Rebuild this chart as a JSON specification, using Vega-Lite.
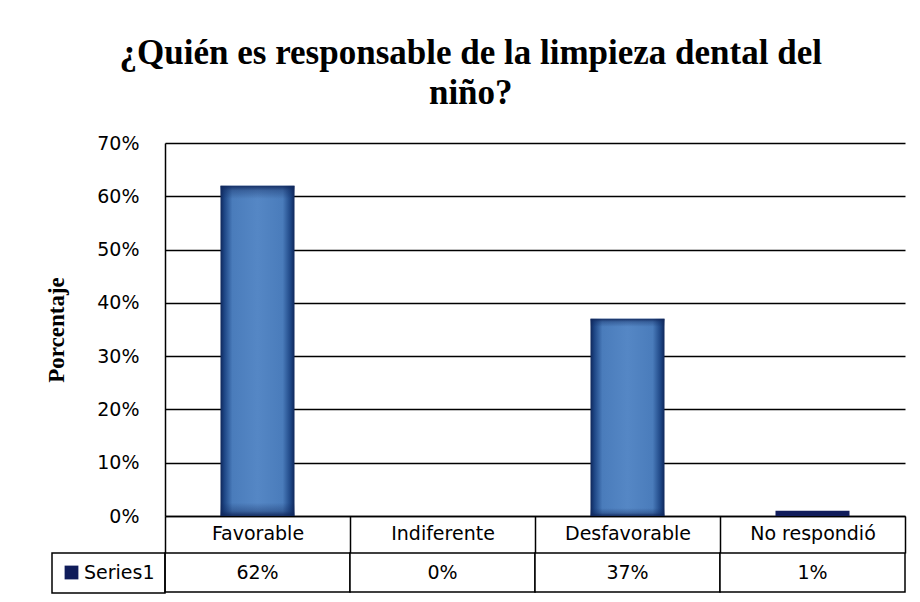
{
  "$schema": "https://vega.github.io/schema/vega-lite/v6.json",
  "padding": {"left": 45, "top": 36, "right": 17, "bottom": 5},
  "background": "white",
  "title": {
    "text": ["¿Quién es responsable de la limpieza dental del", "niño?"],
    "font": "Liberation Serif",
    "fontSize": 35,
    "fontWeight": "bold",
    "lineHeight": 40,
    "anchor": "middle",
    "frame": "bounds",
    "offset": 23,
    "dx": -5,
    "color": "#000000"
  },
  "datasets": {
    "resp": [
      {"categoria": "Favorable", "porcentaje": 0.62, "serie": "Series1"},
      {"categoria": "Indiferente", "porcentaje": 0.0, "serie": "Series1"},
      {"categoria": "Desfavorable", "porcentaje": 0.37, "serie": "Series1"},
      {"categoria": "No respondió", "porcentaje": 0.01, "serie": "Series1"}
    ]
  },
  "spacing": 37,
  "bounds": "flush",
  "resolve": {
    "scale": {"color": "independent", "x": "independent"},
    "legend": {"color": "independent"}
  },
  "vconcat": [
    {
      "width": 740,
      "height": 373,
      "data": {"name": "resp"},
      "encoding": {
        "x": {
          "field": "categoria",
          "type": "nominal",
          "sort": null,
          "scale": {
            "domain": ["Favorable", "Indiferente", "Desfavorable", "No respondió"],
            "paddingInner": 0,
            "paddingOuter": 0
          },
          "axis": {
            "title": null,
            "orient": "bottom",
            "labelAngle": 0,
            "domain": true,
            "domainColor": "#000000",
            "domainWidth": 1.5,
            "ticks": true,
            "tickBand": "extent",
            "tickSize": 37,
            "tickColor": "#000000",
            "tickWidth": 1.5,
            "labelPadding": -20,
            "labelBaseline": "middle",
            "labelFont": "DejaVu Sans",
            "labelFontSize": 19,
            "labelColor": "#000000",
            "grid": false
          }
        },
        "y": {
          "field": "porcentaje",
          "type": "quantitative",
          "scale": {"domain": [0, 0.7], "nice": false},
          "axis": {
            "title": "Porcentaje",
            "values": [0, 0.1, 0.2, 0.3, 0.4, 0.5, 0.6, 0.7],
            "format": ".0%",
            "grid": true,
            "gridColor": "#000000",
            "gridWidth": 1.5,
            "domain": true,
            "domainColor": "#000000",
            "domainWidth": 1.5,
            "ticks": false,
            "labelPadding": 26,
            "labelFont": "DejaVu Sans",
            "labelFontSize": 19,
            "labelColor": "#000000",
            "titleFont": "Liberation Serif",
            "titleFontSize": 23,
            "titleFontWeight": "bold",
            "titleColor": "#000000",
            "titlePadding": 28
          }
        }
      },
      "layer": [
        {
          "transform": [{"filter": "datum.porcentaje >= 0.05"}],
          "mark": {
            "type": "bar",
            "width": {"band": 0.4},
            "fill": {
              "gradient": "linear",
              "x1": 0, "y1": 0, "x2": 1, "y2": 0,
              "stops": [
                {"offset": 0, "color": "#0f275a"},
                {"offset": 0.05, "color": "#1d4584"},
                {"offset": 0.16, "color": "#4a7cbb"},
                {"offset": 0.5, "color": "#5587c5"},
                {"offset": 0.84, "color": "#4a7cbb"},
                {"offset": 0.95, "color": "#1d4584"},
                {"offset": 1, "color": "#0f275a"}
              ]
            }
          }
        },
        {
          "transform": [{"filter": "datum.porcentaje >= 0.05"}],
          "mark": {
            "type": "bar",
            "width": {"band": 0.4},
            "fill": {
              "gradient": "linear",
              "x1": 0, "y1": 0, "x2": 0, "y2": 1,
              "stops": [
                {"offset": 0, "color": "rgba(16,38,90,0.9)"},
                {"offset": 0.015, "color": "rgba(16,38,90,0.35)"},
                {"offset": 0.04, "color": "rgba(16,38,90,0)"},
                {"offset": 0.96, "color": "rgba(16,38,90,0)"},
                {"offset": 0.985, "color": "rgba(16,38,90,0.35)"},
                {"offset": 1, "color": "rgba(16,38,90,0.9)"}
              ]
            }
          }
        },
        {
          "transform": [{"filter": "datum.porcentaje < 0.05"}],
          "mark": {"type": "bar", "width": {"band": 0.4}, "fill": "#111d5c"}
        }
      ]
    },
    {
      "width": 740,
      "height": 39,
      "data": {"name": "resp"},
      "encoding": {
        "x": {
          "field": "categoria",
          "type": "nominal",
          "sort": null,
          "scale": {
            "domain": ["Favorable", "Indiferente", "Desfavorable", "No respondió"],
            "paddingInner": 0,
            "paddingOuter": 0
          },
          "axis": null
        }
      },
      "layer": [
        {
          "mark": {"type": "square", "filled": true, "size": 10},
          "encoding": {
            "color": {
              "field": "serie",
              "type": "nominal",
              "scale": {"range": ["#0f1c5a"]},
              "legend": {
                "title": null,
                "orient": "left",
                "offset": 0,
                "padding": 10,
                "strokeColor": "#000000",
                "symbolType": "square",
                "symbolSize": 190,
                "symbolStrokeWidth": 0,
                "symbolOpacity": 1,
                "labelFont": "DejaVu Sans",
                "labelFontSize": 19,
                "labelColor": "#000000",
                "labelOffset": 3,
                "encode": {
                  "legend": {"update": {"strokeWidth": {"value": 1.5}}}
                }
              }
            }
          }
        },
        {
          "mark": {"type": "rect", "fill": "#ffffff", "stroke": "#000000", "strokeWidth": 1.5}
        },
        {
          "mark": {"type": "text", "font": "DejaVu Sans", "fontSize": 19, "baseline": "middle", "align": "center", "color": "#000000"},
          "encoding": {
            "text": {"field": "porcentaje", "type": "quantitative", "format": ".0%"}
          }
        }
      ]
    }
  ],
  "config": {
    "view": {"stroke": null},
    "font": "DejaVu Sans"
  }
}
